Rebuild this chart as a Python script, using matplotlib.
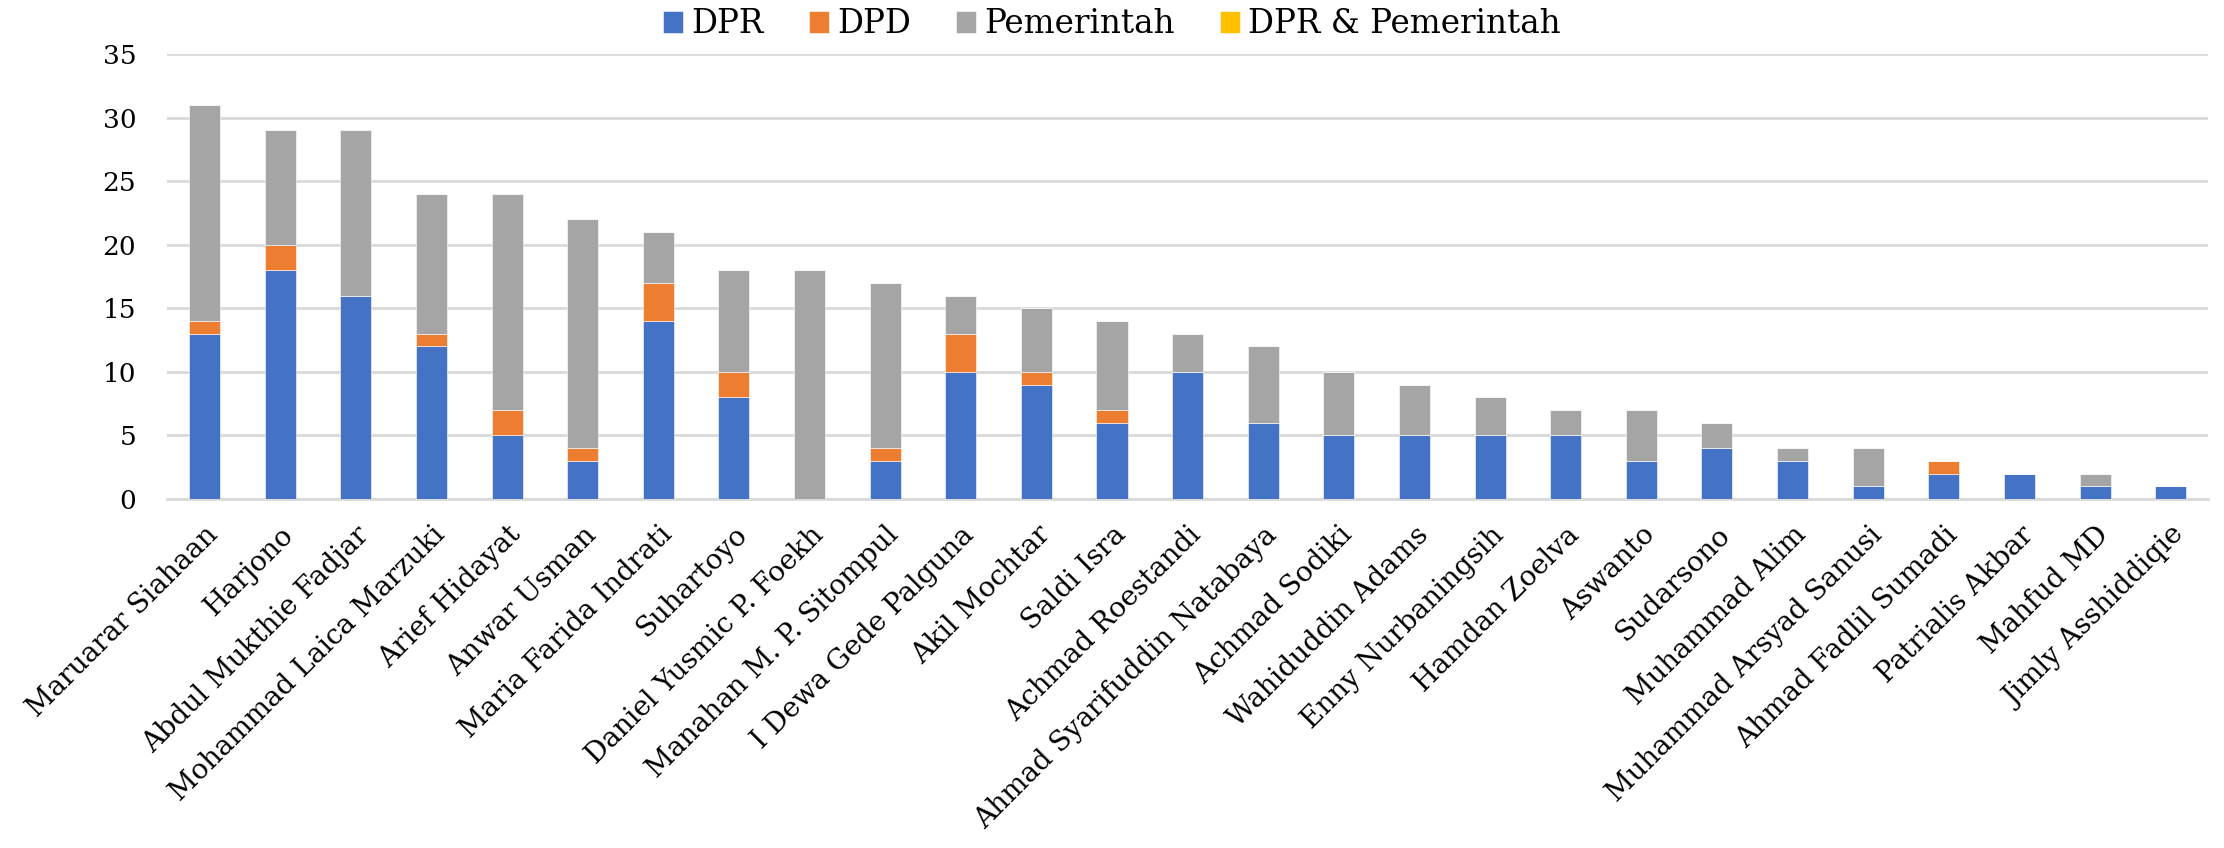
import numpy as np
import matplotlib.pyplot as plt

names = ['Maruarar Siahaan', 'Harjono', 'Abdul Mukthie Fadjar', 'Mohammad Laica Marzuki',
         'Arief Hidayat', 'Anwar Usman', 'Maria Farida Indrati', 'Suhartoyo',
         'Daniel Yusmic P. Foekh', 'Manahan M. P. Sitompul', 'I Dewa Gede Palguna',
         'Akil Mochtar', 'Saldi Isra', 'Achmad Roestandi', 'Ahmad Syarifuddin Natabaya',
         'Achmad Sodiki', 'Wahiduddin Adams', 'Enny Nurbaningsih', 'Hamdan Zoelva',
         'Aswanto', 'Sudarsono', 'Muhammad Alim', 'Muhammad Arsyad Sanusi',
         'Ahmad Fadlil Sumadi', 'Patrialis Akbar', 'Mahfud MD', 'Jimly Asshiddiqie']

dpr = [13, 18, 16, 12, 5, 3, 14, 8, 0, 3, 10, 9, 6, 10, 6, 5, 5, 5, 5, 3, 4, 3, 1, 2, 2, 1, 1]
dpd = [1, 2, 0, 1, 2, 1, 3, 2, 0, 1, 3, 1, 1, 0, 0, 0, 0, 0, 0, 0, 0, 0, 0, 1, 0, 0, 0]
pemerintah = [17, 9, 13, 11, 17, 18, 4, 8, 18, 13, 3, 5, 7, 3, 6, 5, 4, 3, 2, 4, 2, 1, 3, 0, 0, 1, 0]
dpr_pem = [0] * 27

series = [('DPR', dpr, '#4472C4'),
          ('DPD', dpd, '#ED7D31'),
          ('Pemerintah', pemerintah, '#A5A5A5'),
          ('DPR & Pemerintah', dpr_pem, '#FFC000')]

plt.rcParams['font.family'] = ['DejaVu Serif']

fig = plt.figure(figsize=(22.24, 8.48), dpi=100)
ax = fig.add_axes([0.075, 0.4116, 0.918, 0.5245])

x = np.arange(len(names))
bottom = np.zeros(len(names))
for label, vals, color in series:
    vals = np.array(vals, dtype=float)
    ax.bar(x, vals, 0.41, bottom=bottom, color=color, label=label,
           edgecolor='white', linewidth=0.4, zorder=3)
    bottom += vals

ax.set_xlim(-0.5, len(names) - 0.5)
ax.set_ylim(0, 35)
ax.set_yticks(range(0, 36, 5))
ax.yaxis.grid(True, color='#D9D9D9', linewidth=2, zorder=0)
ax.set_axisbelow(True)
for s in ['top', 'right', 'left']:
    ax.spines[s].set_visible(False)
ax.spines['bottom'].set_color('#D9D9D9')
ax.spines['bottom'].set_linewidth(2)
ax.tick_params(axis='y', length=0, labelsize=19, pad=22)
ax.tick_params(axis='x', length=0, labelsize=20, pad=16)
ax.set_xticks(x)
ax.set_xticklabels(names, rotation=45, ha='right', va='top', rotation_mode='anchor')

fig.legend(loc='upper center', bbox_to_anchor=(0.5, 1.025), ncol=4, frameon=False,
           fontsize=23.5, handlelength=0.6, handleheight=0.65, handletextpad=0.25,
           columnspacing=1.4)

fig.savefig('out.png', dpi=100)
